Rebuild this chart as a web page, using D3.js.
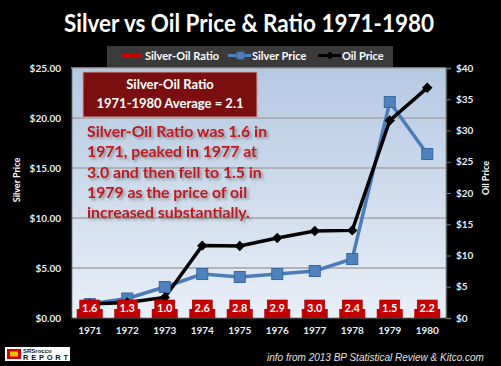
<!DOCTYPE html>
<html><head><meta charset="utf-8">
<script src="https://cdn.jsdelivr.net/npm/d3@7"></script>
<style>html,body{margin:0;padding:0;background:#000;}svg{display:block;}</style>
</head><body>
<script>
const years = ["1971","1972","1973","1974","1975","1976","1977","1978","1979","1980"];
const silverPrice = [1.39, 1.95, 3.10, 4.40, 4.10, 4.40, 4.70, 5.90, 21.60, 16.40];
const oilPrice = [2.24, 2.48, 3.29, 11.58, 11.53, 12.80, 13.92, 14.02, 31.61, 36.83];
const ratio = [1.6, 1.3, 1.0, 2.6, 2.8, 2.9, 3.0, 2.4, 1.5, 2.2];
const leftTicks = [0, 5, 10, 15, 20, 25];
const rightTicks = [0, 5, 10, 15, 20, 25, 30, 35, 40];
const noteLines = ["Silver-Oil Ratio was 1.6 in", "1971, peaked in 1977 at", "3.0 and then fell to 1.5 in", "1979 as the price of oil", "increased substantially."];

const W = 501, H = 366;
const L = 71, R = 446, T = 68, B = 318;
const font = "Lato, 'Open Sans', sans-serif";

const svg = d3.select("body").append("svg").attr("width", W).attr("height", H)
  .style("background", "#000");

const defs = svg.append("defs");
const grad = defs.append("linearGradient").attr("id", "bg").attr("x1", 0).attr("y1", 0).attr("x2", 0).attr("y2", 1);
grad.append("stop").attr("offset", "0%").attr("stop-color", "#b5c9e2");
grad.append("stop").attr("offset", "100%").attr("stop-color", "#e9eff8");
const f = defs.append("filter").attr("id", "shadow").attr("x", "-10%").attr("y", "-10%").attr("width", "130%").attr("height", "150%");
f.append("feDropShadow").attr("dx", 2).attr("dy", 2).attr("stdDeviation", 1.5).attr("flood-color", "#555").attr("flood-opacity", 0.6);

const x = d3.scaleBand().domain(years).range([L, R]);
const yL = d3.scaleLinear().domain([0, 25]).range([B, T]);
const yR = d3.scaleLinear().domain([0, 40]).range([B, T]);

// title
svg.append("text").attr("x", 249).attr("y", 32).attr("text-anchor", "middle")
  .attr("fill", "#fff").attr("font-family", font).attr("font-weight", "bold").attr("font-size", 24)
  .attr("textLength", 370).attr("lengthAdjust", "spacingAndGlyphs")
  .text("Silver vs Oil Price & Ratio 1971-1980");

// legend
const lg = svg.append("g");
lg.append("rect").attr("x", 107).attr("y", 46).attr("width", 286).attr("height", 21).attr("fill", "#3a3a3a");
lg.append("rect").attr("x", 122).attr("y", 53).attr("width", 20).attr("height", 5).attr("fill", "#cc0000");
lg.append("line").attr("x1", 228).attr("x2", 251).attr("y1", 55.5).attr("y2", 55.5).attr("stroke", "#4f81bd").attr("stroke-width", 3);
lg.append("rect").attr("x", 237).attr("y", 52).attr("width", 7).attr("height", 7).attr("fill", "#4f81bd").attr("stroke", "#3a6aa0");
lg.append("line").attr("x1", 318).attr("x2", 341).attr("y1", 55.5).attr("y2", 55.5).attr("stroke", "#000").attr("stroke-width", 3);
lg.append("path").attr("d", d3.symbol(d3.symbolDiamond2, 40)()).attr("transform", "translate(330,55.5)").attr("fill", "#000");
[["Silver-Oil Ratio", 145], ["Silver Price", 252], ["Oil Price", 342]].forEach(([t, xx]) => {
  lg.append("text").attr("x", xx).attr("y", 60).attr("fill", "#fff").attr("font-family", font)
    .attr("font-weight", "bold").attr("font-size", 11).text(t);
});

// plot background
svg.append("rect").attr("x", L).attr("y", T).attr("width", R - L).attr("height", B - T).attr("fill", "url(#bg)");

// gridlines
svg.append("g").selectAll("line").data(leftTicks.filter(d => d > 0)).join("line")
  .attr("x1", L).attr("x2", R).attr("y1", d => yL(d)).attr("y2", d => yL(d))
  .attr("stroke", "#a3a3a3").attr("stroke-width", 1.5);

// left axis
const gL = svg.append("g").attr("transform", `translate(${L},0)`)
  .call(d3.axisLeft(yL).tickValues(leftTicks).tickSize(0).tickPadding(10).tickFormat(d => "$" + d.toFixed(2)));
gL.select(".domain").attr("stroke", "#333").attr("stroke-width", 1.5);
gL.selectAll("text").attr("fill", "#e8eef8").attr("font-family", font).attr("font-weight", "bold").attr("font-size", 10);

// right axis
const gR = svg.append("g").attr("transform", `translate(${R},0)`)
  .call(d3.axisRight(yR).tickValues(rightTicks).tickSize(5).tickPadding(5).tickFormat(d => "$" + d));
gR.select(".domain").attr("stroke", "#555").attr("stroke-width", 1.5);
gR.selectAll(".tick line").attr("stroke", "#777");
gR.selectAll("text").attr("fill", "#e8eef8").attr("font-family", font).attr("font-weight", "bold").attr("font-size", 10);

// bottom axis
const gB = svg.append("g").attr("transform", `translate(0,${B})`)
  .call(d3.axisBottom(x).tickSize(0).tickPadding(9));
gB.select(".domain").attr("stroke", "#333").attr("stroke-width", 1.5);
gB.selectAll("text").attr("fill", "#e8eef8").attr("font-family", font).attr("font-weight", "bold").attr("font-size", 10);

// axis titles
svg.append("text").attr("transform", "translate(20,180) rotate(-90)").attr("text-anchor", "middle")
  .attr("fill", "#fff").attr("font-family", font).attr("font-weight", "bold").attr("font-size", 9).text("Silver  Price");
svg.append("text").attr("transform", "translate(489,178) rotate(-90)").attr("text-anchor", "middle")
  .attr("fill", "#fff").attr("font-family", font).attr("font-weight", "bold").attr("font-size", 9).text("Oil Price");

// annotation box
svg.append("rect").attr("x", 83).attr("y", 72).attr("width", 174).attr("height", 45)
  .attr("fill", "#7b0f10").attr("stroke", "#c9a0a0").attr("stroke-width", 1);
svg.append("text").attr("x", 170).attr("y", 89).attr("text-anchor", "middle").attr("fill", "#fff")
  .attr("font-family", font).attr("font-weight", "bold").attr("font-size", 13).text("Silver-Oil Ratio");
svg.append("text").attr("x", 170).attr("y", 108).attr("text-anchor", "middle").attr("fill", "#fff")
  .attr("font-family", font).attr("font-weight", "bold").attr("font-size", 13).text("1971-1980 Average = 2.1");

svg.append("g").attr("filter", "url(#shadow)").selectAll("text").data(noteLines).join("text")
  .attr("x", 87).attr("y", (d, i) => 137 + i * 20.3).attr("fill", "#c0141c")
  .attr("font-family", font).attr("font-weight", "bold").attr("font-size", 15.8).text(d => d);

// ratio bars
const rg = svg.append("g");
rg.selectAll("rect.bar").data(ratio).join("rect").attr("class", "bar")
  .attr("x", (d, i) => x(years[i]) + x.bandwidth() / 2 - 13).attr("width", 26)
  .attr("y", B - 9).attr("height", 9).attr("fill", "#c00000");
rg.selectAll("rect.lab").data(ratio).join("rect").attr("class", "lab")
  .attr("x", (d, i) => x(years[i]) + x.bandwidth() / 2 - 10).attr("width", 20)
  .attr("y", B - 18).attr("height", 15).attr("fill", "#c80000").attr("stroke", "#9a0000").attr("stroke-width", 0.6);

// lines
const lineS = d3.line().x((d, i) => x(years[i]) + x.bandwidth() / 2).y(d => yL(d));
const lineO = d3.line().x((d, i) => x(years[i]) + x.bandwidth() / 2).y(d => yR(d));
svg.append("path").attr("d", lineS(silverPrice)).attr("fill", "none").attr("stroke", "#4a7db8").attr("stroke-width", 3.5);
svg.append("path").attr("d", lineO(oilPrice)).attr("fill", "none").attr("stroke", "#000").attr("stroke-width", 3.5);

svg.append("g").selectAll("rect").data(silverPrice).join("rect")
  .attr("x", (d, i) => x(years[i]) + x.bandwidth() / 2 - 5.5).attr("y", d => yL(d) - 5.5)
  .attr("width", 11).attr("height", 11).attr("fill", "#4f81bd").attr("stroke", "#36689f").attr("stroke-width", 1);

svg.append("g").selectAll("path").data(oilPrice).join("path")
  .attr("d", d3.symbol(d3.symbolDiamond2, 70)())
  .attr("transform", (d, i) => `translate(${x(years[i]) + x.bandwidth() / 2},${yR(d)})`).attr("fill", "#000");

// ratio labels (on top)
rg.selectAll("text").data(ratio).join("text")
  .attr("x", (d, i) => x(years[i]) + x.bandwidth() / 2).attr("y", B - 6.5).attr("text-anchor", "middle")
  .attr("fill", "#fff").attr("font-family", font).attr("font-weight", "bold").attr("font-size", 11)
  .text(d => d.toFixed(1));
rg.raise();

// logo
const logo = svg.append("g");
logo.append("rect").attr("x", 5).attr("y", 347).attr("width", 65).attr("height", 14).attr("fill", "#fff");
logo.append("rect").attr("x", 7).attr("y", 349).attr("width", 14).attr("height", 10).attr("fill", "#d00000");
logo.append("rect").attr("x", 10).attr("y", 351.5).attr("width", 8).attr("height", 5).attr("fill", "#f0c000");
logo.append("text").attr("x", 23).attr("y", 353).attr("fill", "#111").attr("font-family", "Arial, sans-serif")
  .attr("font-weight", "bold").attr("font-size", 6).text("SRSrocco");
logo.append("text").attr("x", 23).attr("y", 360).attr("fill", "#111").attr("font-family", "Arial, sans-serif")
  .attr("font-weight", "900").attr("font-size", 7.5).attr("textLength", 45).text("REPORT");

svg.append("text").attr("x", 267).attr("y", 361).attr("fill", "#e0e0e0")
  .attr("font-family", "'Liberation Sans', Arial, sans-serif").attr("font-style", "italic").attr("font-size", 10)
  .text("info from 2013 BP Statistical Review & Kitco.com");
</script>
</body></html>
